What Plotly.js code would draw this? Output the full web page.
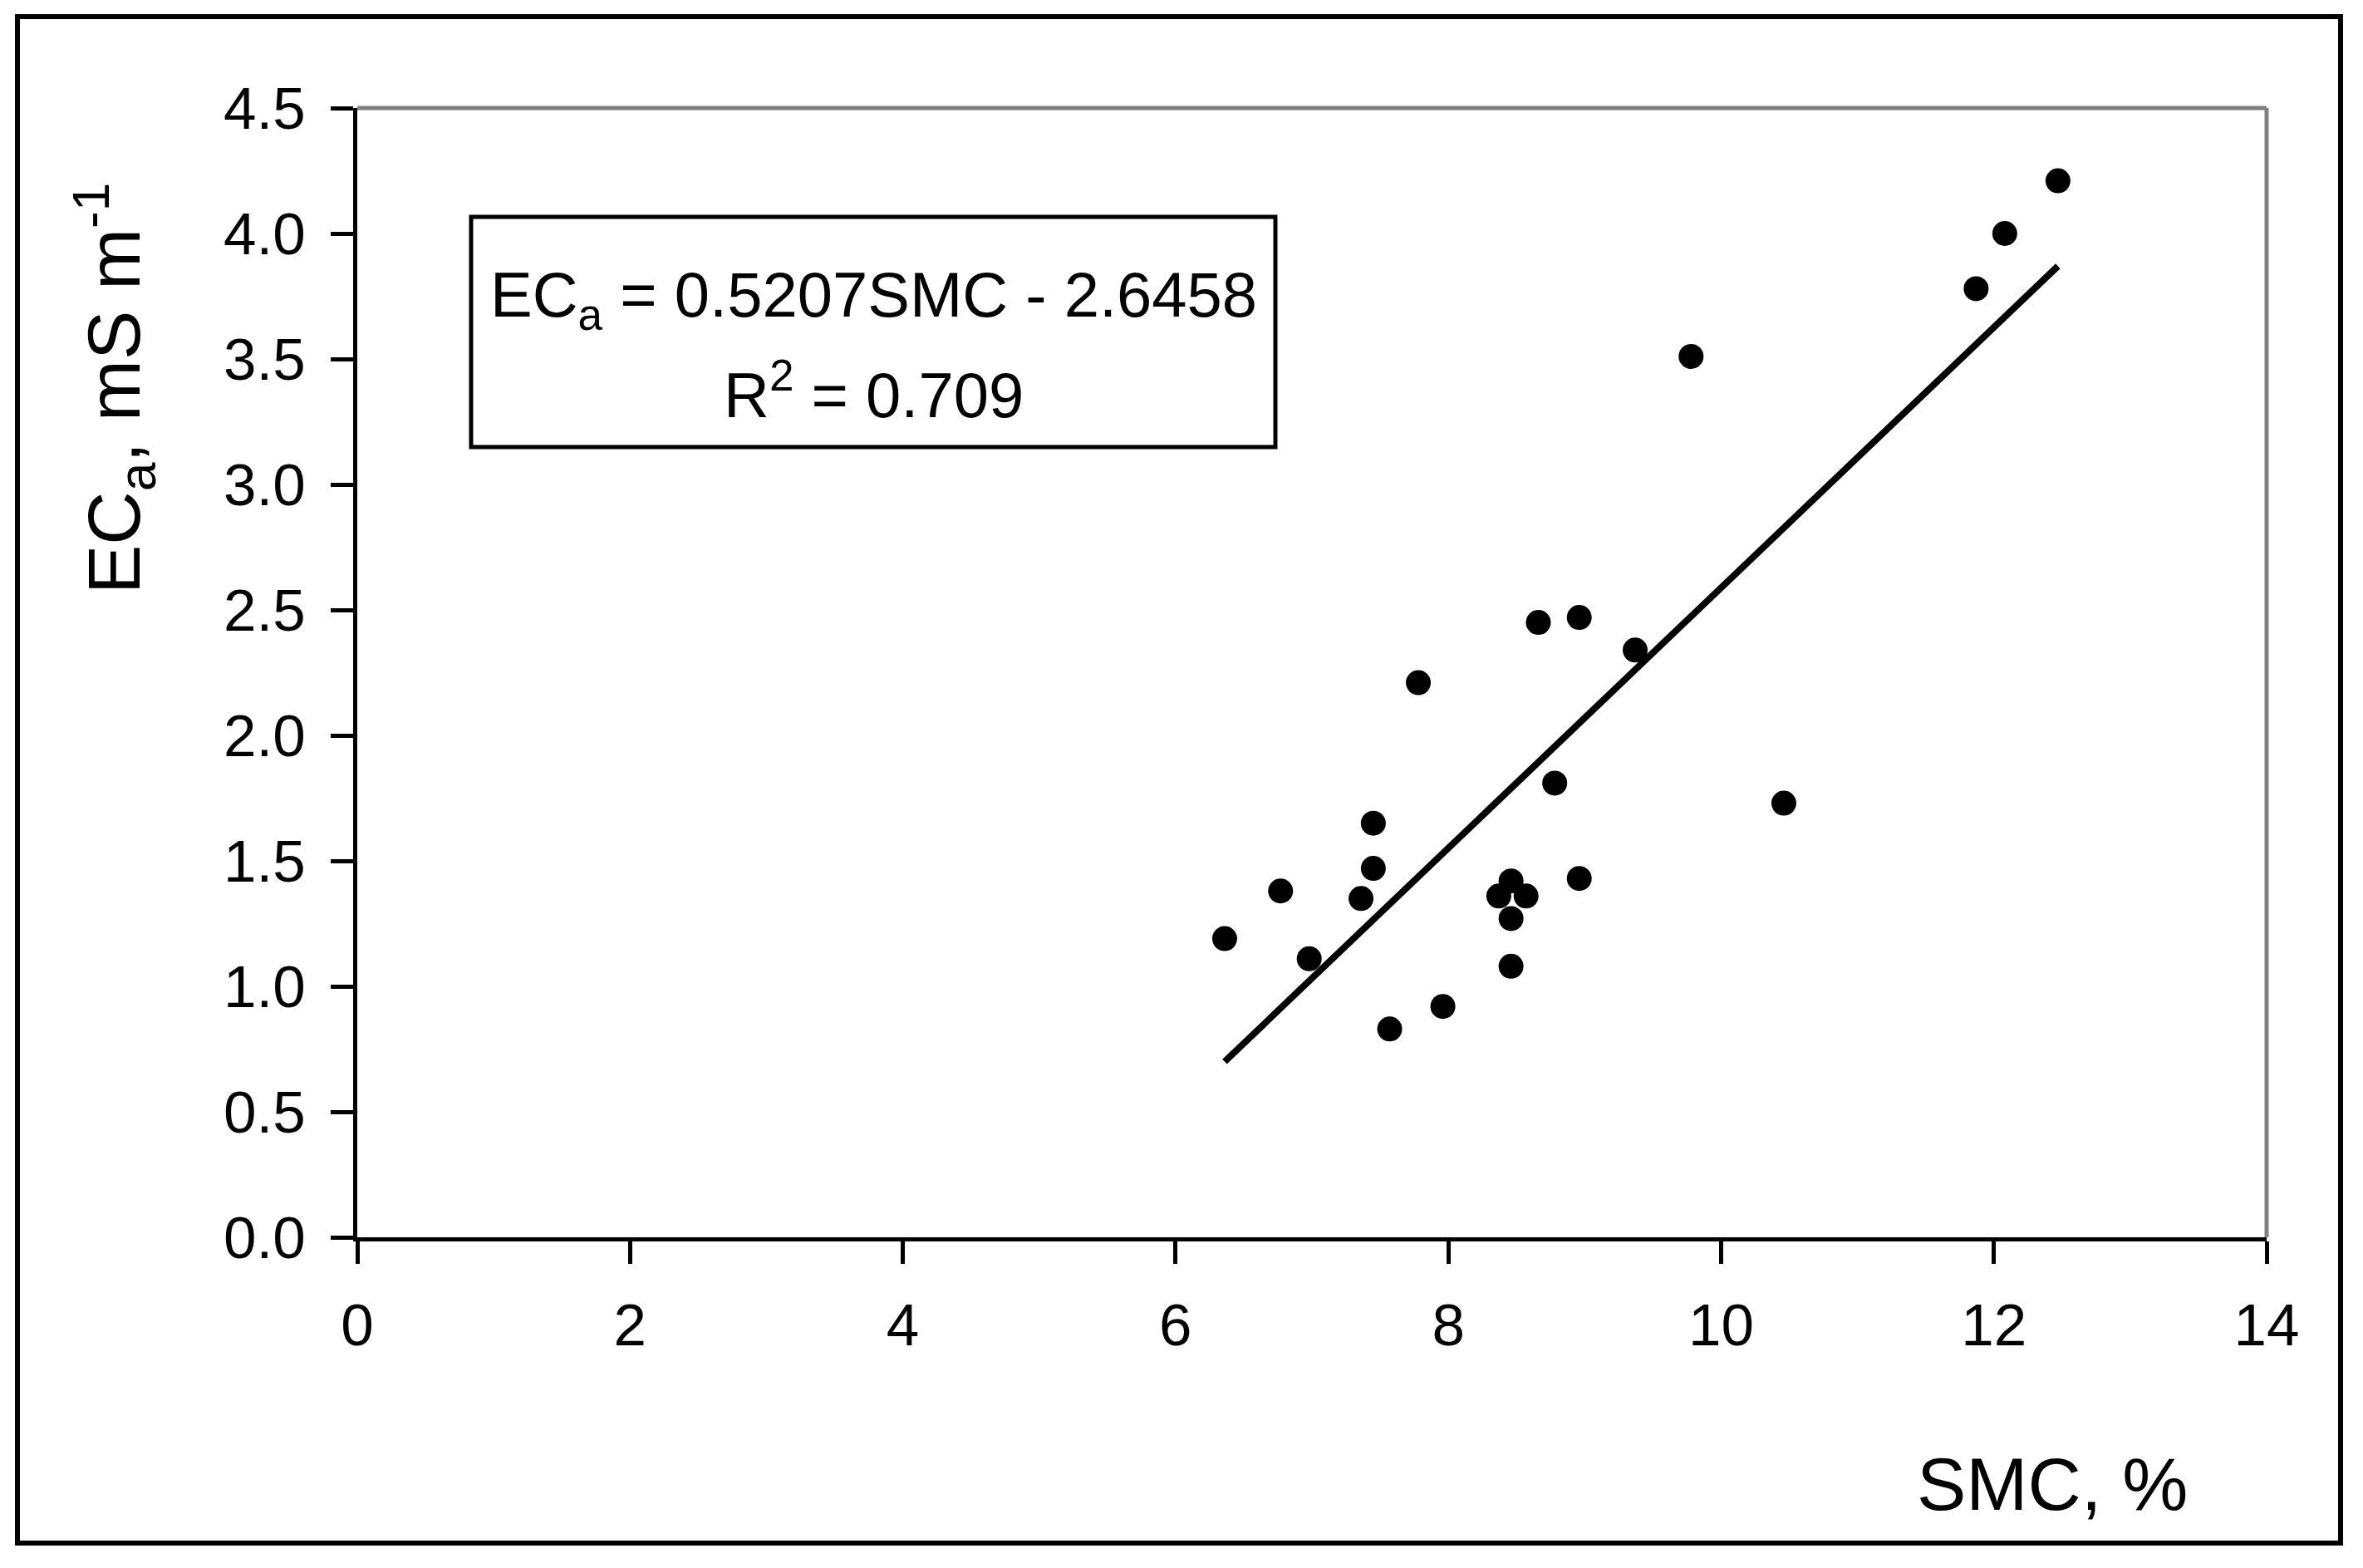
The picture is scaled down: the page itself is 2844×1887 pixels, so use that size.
<!DOCTYPE html>
<html>
<head>
<meta charset="utf-8">
<script src="https://cdn.plot.ly/plotly-3.0.1.min.js"></script>
<style>html,body{margin:0;padding:0;background:#fff;}#chart{width:2844px;height:1887px;}</style>
</head>
<body>
<div id="chart"></div>
<script>
// Observed data: soil moisture content (SMC, %) vs apparent electrical conductivity (ECa, mS m-1)
var smc = [6.36, 6.77, 6.98, 7.36, 7.45, 7.45, 7.57, 7.78, 7.96, 8.37, 8.46, 8.46, 8.46, 8.57, 8.66, 8.78, 8.96, 8.96, 9.37, 9.78, 10.46, 11.87, 12.08, 12.47];
var eca = [1.19, 1.38, 1.11, 1.35, 1.65, 1.47, 0.83, 2.21, 0.92, 1.36, 1.42, 1.27, 1.08, 1.36, 2.45, 1.81, 2.47, 1.43, 2.34, 3.51, 1.73, 3.78, 4.00, 4.21];
// Fitted line end points as drawn
var fitX = [6.36, 12.47];
var fitY = [0.70, 3.87];
var xTicks = [0, 2, 4, 6, 8, 10, 12, 14];
var yTicks = [0, 0.5, 1, 1.5, 2, 2.5, 3, 3.5, 4, 4.5];
var eqText = 'EC<sub>a</sub> = 0.5207SMC - 2.6458';
var r2Text = 'R<sup>2</sup> = 0.709';
var xTitle = 'SMC, %';
var yTitle = 'EC<sub>a</sub>, mS m<sup>-1</sup>';

var FONT = 'Arial, "Liberation Sans", sans-serif';

var traces = [
  {x: fitX, y: fitY, mode: 'lines', type: 'scatter', line: {color: '#000', width: 8}, hoverinfo: 'skip', showlegend: false},
  {x: smc, y: eca, mode: 'markers', type: 'scatter', marker: {color: '#000', size: 30, line: {width: 0}}, showlegend: false}
];

var layout = {
  width: 2844, height: 1887,
  margin: {l: 430, r: 116, t: 130, b: 398, pad: 0},
  paper_bgcolor: '#fff', plot_bgcolor: '#fff',
  font: {family: FONT, color: '#000'},
  showlegend: false,
  xaxis: {
    range: [0, 14], tickvals: xTicks, ticktext: xTicks.map(String),
    showgrid: false, zeroline: false, showline: true, linecolor: '#000', linewidth: 5,
    ticks: 'outside', ticklen: 27, tickwidth: 5, tickcolor: '#000', ticklabelstandoff: 13,
    tickfont: {family: FONT, size: 71, color: '#000'}, automargin: false, fixedrange: true
  },
  yaxis: {
    range: [0, 4.5], tickvals: yTicks, ticktext: yTicks.map(function(v){return v.toFixed(1);}),
    showgrid: false, zeroline: false, showline: true, linecolor: '#000', linewidth: 5,
    ticks: 'outside', ticklen: 27, tickwidth: 5, tickcolor: '#000', ticklabelstandoff: 16,
    tickfont: {family: FONT, size: 71, color: '#000'}, automargin: false, fixedrange: true
  },
  shapes: [
    {type: 'line', xref: 'paper', yref: 'paper', x0: 0, x1: 1, y0: 1, y1: 1, line: {color: '#808080', width: 5}},
    {type: 'line', xref: 'paper', yref: 'paper', x0: 1, x1: 1, y0: 0, y1: 1, line: {color: '#808080', width: 5}},
    {type: 'rect', xref: 'paper', yref: 'paper', x0: -0.17798, x1: 1.03873, y0: -0.27079, y1: 1.08094, line: {color: '#000', width: 6}},
    {type: 'rect', xref: 'paper', yref: 'paper', x0: 0.05962, x1: 0.48085, y0: 0.69978, y1: 0.90361, line: {color: '#000', width: 5}}
  ],
  annotations: [
    {text: eqText, xref: 'paper', yref: 'paper', x: 0.27024, y: 0.8305, xanchor: 'center', yanchor: 'middle', showarrow: false, font: {family: FONT, size: 76, color: '#000'}},
    {text: r2Text, xref: 'paper', yref: 'paper', x: 0.27024, y: 0.7495, xanchor: 'center', yanchor: 'middle', showarrow: false, font: {family: FONT, size: 76, color: '#000'}},
    {text: xTitle, xref: 'paper', yref: 'paper', x: 0.88773, y: -0.2185, xanchor: 'center', yanchor: 'middle', showarrow: false, font: {family: FONT, size: 89, color: '#000'}},
    {text: yTitle, xref: 'paper', yref: 'paper', x: -0.1275, y: 0.75202, xanchor: 'center', yanchor: 'middle', textangle: -90, showarrow: false, font: {family: FONT, size: 89, color: '#000'}}
  ]
};

Plotly.newPlot('chart', traces, layout, {displayModeBar: false, staticPlot: true});
</script>
</body>
</html>
